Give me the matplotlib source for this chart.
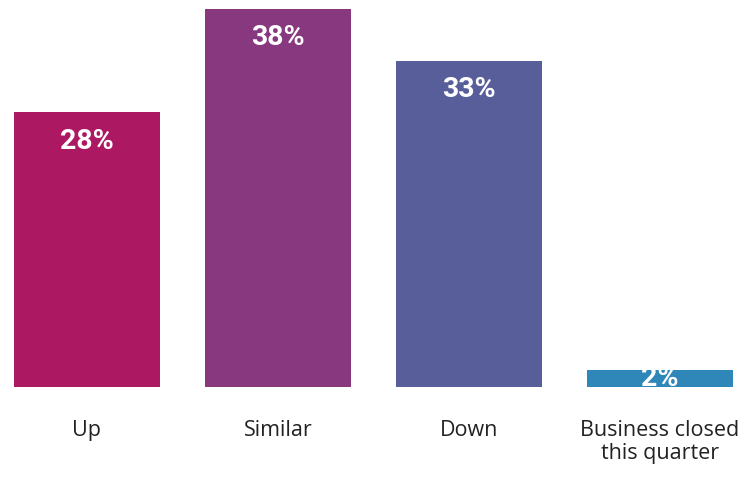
import matplotlib
matplotlib.use("Agg")
import matplotlib.pyplot as plt

categories = ["Up", "Similar", "Down", "Business closed\nthis quarter"]
values = [27.6, 38.0, 32.8, 1.7]
colors = ["#AD1862", "#87387F", "#585E9A", "#2E86B9"]

fig = plt.figure(figsize=(7.53, 4.79), dpi=100)
ax = fig.add_axes([0, 92 / 479, 1, 387 / 479])
x = list(range(len(categories)))
bars = ax.bar(x, values, width=0.764, color=colors, zorder=2)

ax.set_xlim(-0.4555, 3.487)
ax.set_ylim(0, 38.9)
for s in ax.spines.values():
    s.set_visible(False)
ax.set_yticks([])
ax.set_xticks(x)
ax.set_xticklabels(categories, fontsize=15.5, family=["Open Sans", "DejaVu Sans"],
                   color="#222222", linespacing=1.12)
ax.tick_params(axis="x", length=0, pad=24)

for xi, v in zip(x, values):
    y = max(v - 2.9, v / 2)
    ax.text(xi, y, f"{round(v):d}%", ha="center", va="center", color="white",
            fontsize=20.5, fontweight="bold", family=["Roboto", "DejaVu Sans"],
            fontstretch="condensed", clip_on=True, zorder=3)

fig.savefig("out.png", dpi=100)
